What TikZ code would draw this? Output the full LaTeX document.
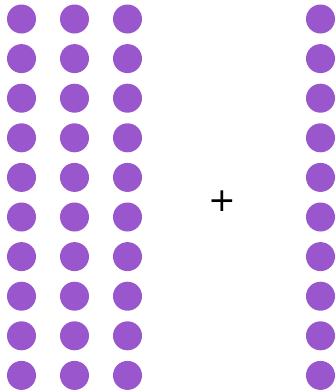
\documentclass[tikz,border=0pt]{standalone}
\usepackage{fontspec}
\newfontfamily\plusfont{DejaVu Sans}
\definecolor{dotpurple}{HTML}{9A56CC}

\begin{document}
\begin{tikzpicture}[x=1pt,y=-1pt]
  \useasboundingbox (0,0) rectangle (335,392);
  \foreach \x in {21.5,74.5,127.5,320.5}
    \foreach \y in {0,...,9}
      \fill[dotpurple] (\x,19+39.6*\y) circle (14.5);
  \node (plus) at (222.5,201.5) {\fontsize{33}{33}\selectfont\plusfont +};
\end{tikzpicture}
\end{document}
